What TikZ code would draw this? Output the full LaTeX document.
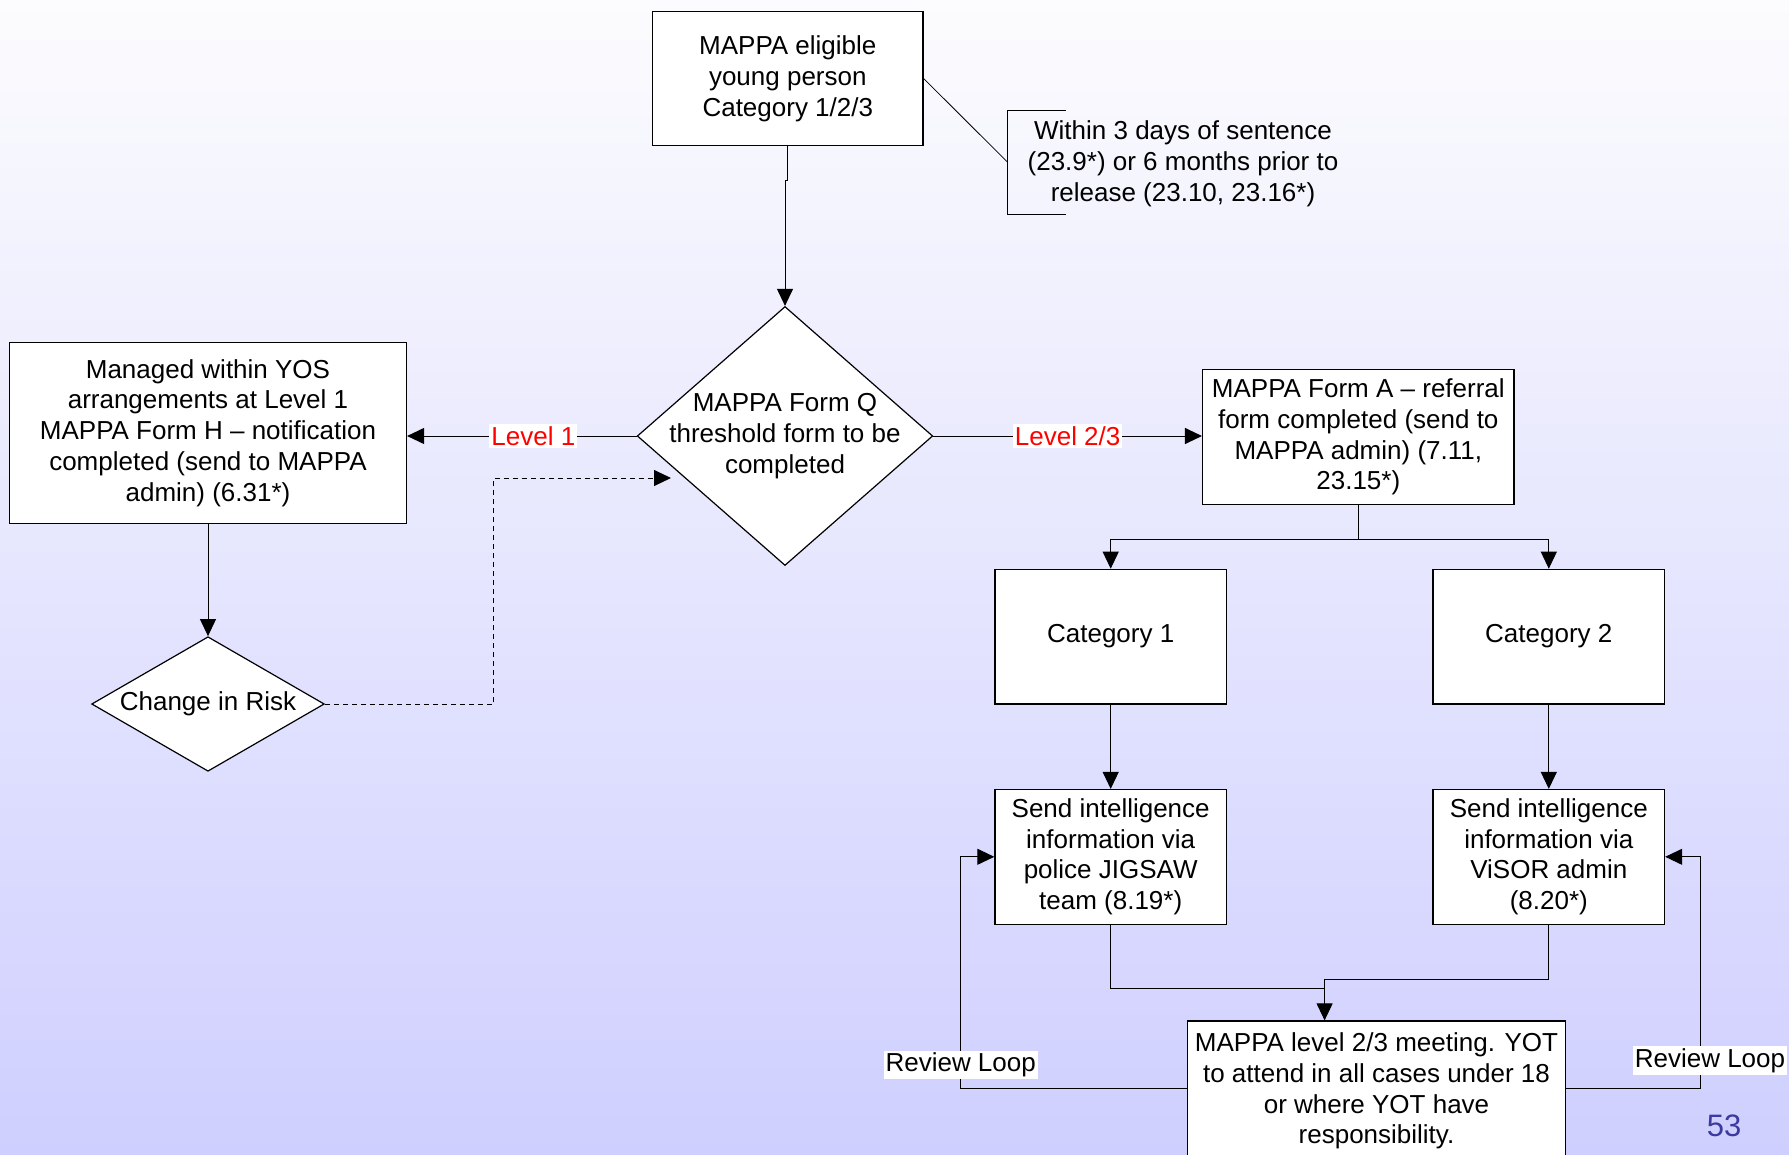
\documentclass[tikz,border=0pt]{standalone}
\usepackage{fontspec}
\setmainfont{Liberation Sans}
\usetikzlibrary{%
  arrows.meta,
  calc
}
\usetikzlibrary{shapes.geometric}

\definecolor{bgtop}{RGB}{252,252,254}
\definecolor{bgmid}{RGB}{226,226,252}
\definecolor{bgbot}{RGB}{207,207,255}
\definecolor{pagenum}{RGB}{58,58,160}

\begin{document}
\begin{tikzpicture}[x=0.5pt, y=-0.5pt,
    every node/.style={font=\fontsize{13}{15.4}\selectfont},
    box/.style={draw, fill=white, align=center, line width=0.6pt, minimum height=67.3pt, inner sep=1pt},
    dia/.style={draw, fill=white, diamond, inner sep=0pt, line width=0.6pt},
    arr/.style={-{Triangle[length=8.5pt,width=8pt]}, line width=0.5pt},
    lvl/.style={fill=white, text=red, inner sep=1pt},
    loopl/.style={fill=white, inner sep=1pt}]

    \useasboundingbox (0,0) rectangle (1789,1155);
    \shade[top color=bgtop, middle color=bgmid, bottom color=bgbot] (0,0) rectangle (1789,1155);

    \node[box, minimum width=135.2pt] (elig) at (787.8,78.5) {MAPPA eligible\\young person\\Category 1/2/3};
    \node[align=center] (note) at (1183,164) {Within 3 days of sentence\\(23.9*) or 6 months prior to\\release (23.10, 23.16*)};
    \coordinate (brk) at (1007.4,162);
    \draw (brk) ++(58.2,-51.3) -- ++(-58.2,0) -- ++(0,103.8) -- ++(58.2,0);

    \node[dia, minimum width=147.75pt, minimum height=129.5pt,
      label={[align=center]center:MAPPA Form Q\\threshold form to be\\completed}] (formq) at (785,436) {};
    \node[box, minimum width=198.5pt, minimum height=90.1pt] (mngd) at (208,433)
      {Managed within YOS\\arrangements at Level 1\\MAPPA Form H – notification\\completed (send to MAPPA\\admin) (6.31*)};
    \node[dia, minimum width=116.35pt, minimum height=67.3pt, label={center:Change in Risk}] (risk) at (208,704) {};
    \node[box, minimum width=155.75pt] (forma) at (1358.3,437)
      {MAPPA Form A – referral\\form completed (send to\\MAPPA admin) (7.11,\\23.15*)};

    \node[box, minimum width=115.8pt] (cat1) at (1110.7,636.6) {Category 1};
    \node[box, minimum width=115.8pt] (cat2) at (1548.8,636.6) {Category 2};
    \node[box, minimum width=115.8pt] (intel1) at (1110.7,856.8) {Send intelligence\\information via\\police JIGSAW\\team (8.19*)};
    \node[box, minimum width=115.8pt] (intel2) at (1548.8,856.8) {Send intelligence\\information via\\ViSOR admin\\(8.20*)};
    \node[box, minimum width=188.8pt, minimum height=70pt] (meet) at (1376.5,1091)
      {MAPPA level 2/3 meeting. YOT\\to attend in all cases under 18\\or where YOT have\\responsibility.};

    \node[text=pagenum, font=\fontsize{15.5}{18}\selectfont] (pnum) at (1724,1126) {53};

    % connectors
    \draw (elig.east) -- (brk);
    \draw[arr] (elig.south) -- ++(0,34) -| (formq.north);
    \draw[arr] (formq.west) -- node[lvl, pos=0.45] {Level 1} (formq.west -| mngd.east);
    \draw[arr] (mngd.south) -- (risk.north);
    \coordinate (qin) at (671,478);
    \draw[arr, dash pattern=on 2.5pt off 2pt] (risk.east) -- ++(169,0) |- (qin);
    \draw[arr] (formq.east) -- node[lvl] {Level 2/3} (formq.east -| forma.west);

    \draw[arr] (forma.south) -- ++(0,35) -| (cat1.north);
    \draw[arr] (forma.south) -- ++(0,35) -| (cat2.north);
    \draw[arr] (cat1) -- (intel1);
    \draw[arr] (cat2) -- (intel2);

    \coordinate (mrg) at (1324.6,979);
    \draw (intel1.south) |- ($(mrg)+(0,9)$);
    \draw[arr] (intel2.south) |- (mrg) -- (mrg |- meet.north);

    \coordinate (rvl) at (960.7,1088.4);
    \coordinate (rvr) at (1700,1088.4);
    \draw[arr] (meet.west |- rvl) -- (rvl) -- node[loopl, pos=0.1] {Review Loop} (rvl |- intel1.west) -- (intel1.west);
    \draw[arr] (meet.east |- rvr) -- (rvr) -- node[loopl, pos=0.12, xshift=5pt] {Review Loop} (rvr |- intel2.east) -- (intel2.east);

\end{tikzpicture}
\end{document}
